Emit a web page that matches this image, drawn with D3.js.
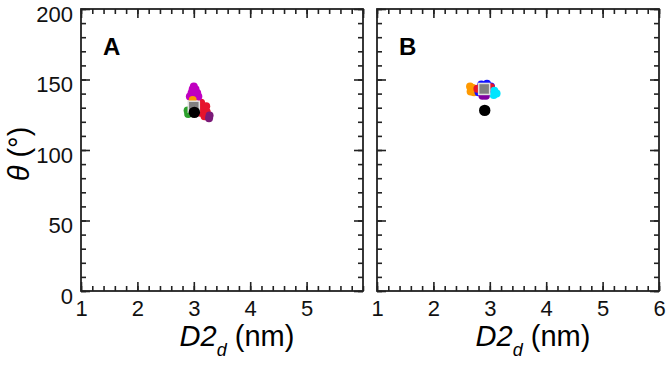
<!DOCTYPE html>
<html>
<head>
<meta charset="utf-8">
<script src="https://cdn.jsdelivr.net/npm/d3@7"></script>
<style>
  body { margin: 0; background: #fff; }
  svg { font-family: "Liberation Sans", Arial, sans-serif; }
</style>
</head>
<body>
<div id="chart"></div>
<script>
// Axis ticks
const xTicksA = [1, 2, 3, 4, 5];
const xTicksB = [1, 2, 3, 4, 5, 6];
const yTicks = [0, 50, 100, 150, 200];

// Panel A points [D2d, theta]
const aGreen = [[2.89, 128], [2.9, 125.5]];
const aRed = [[3.13, 133.5], [3.18, 130.5], [3.23, 127], [3.12, 126.5], [3.19, 124], [3.1, 129.5], [3.22, 131]];
const aPurple = [[3.28, 124.5], [3.27, 122.5]];
const aMagenta = [[3.0, 145], [2.98, 143], [3.03, 143], [2.96, 140.5], [3.01, 140], [3.06, 140.5], [2.99, 138], [2.93, 138], [3.08, 138]];
const aOrange = [[2.98, 135.5]];
const aSquare = [[3.0, 130.7]];
const aCircle = [[3.01, 126.7]];

// Panel B points [D2d, theta]
const bOrange = [[2.65, 145], [2.7, 144], [2.66, 141.5], [2.72, 141]];
const bBlue = [[2.85, 146.5], [2.95, 147], [3.02, 145], [3.03, 141], [2.8, 141]];
const bRed = [[3.02, 144.5], [2.78, 143.5]];
const bPurple = [[2.87, 138.5], [2.93, 138.5]];
const bCyan = [[3.08, 142], [3.12, 140], [3.07, 139]];
const bSquare = [[2.9, 143.3]];
const bCircle = [[2.91, 128.1]];

const panels = [
  { left: 81, label: "A", xTicks: xTicksA, yLabels: true,
    series: [[aGreen, "#2ca02c"], [aRed, "#e6142d"], [aPurple, "#7b1a78"], [aMagenta, "#c000c0"], [aOrange, "#ff9900"]],
    square: aSquare, circle: aCircle },
  { left: 377, label: "B", xTicks: xTicksB, yLabels: false,
    series: [[bOrange, "#ff9900"], [bBlue, "#1010ff"], [bRed, "#e6142d"], [bPurple, "#8000a0"], [bCyan, "#00e5ff"]],
    square: bSquare, circle: bCircle }
];

const plotTop = 9, size = 282;
const svg = d3.select("#chart").append("svg")
    .attr("width", 666)
    .attr("height", 366);

panels.forEach(function(p) {
    const g = svg.append("g").attr("transform", `translate(${p.left},${plotTop})`);

    const x = d3.scaleLinear().domain([1, 6]).range([0, size]);
    const y = d3.scaleLinear().domain([0, 200]).range([size, 0]);

    const xMinor = d3.range(1, 6.01, 0.2);
    const yMinor = d3.range(0, 201, 10);

    // minor ticks on all sides
    g.append("g").attr("transform", `translate(0,${size})`)
        .call(d3.axisBottom(x).tickValues(xMinor).tickSize(-5).tickFormat(""));
    g.append("g")
        .call(d3.axisTop(x).tickValues(xMinor).tickSize(-5).tickFormat(""));
    g.append("g")
        .call(d3.axisLeft(y).tickValues(yMinor).tickSize(-5).tickFormat(""));
    g.append("g").attr("transform", `translate(${size},0)`)
        .call(d3.axisRight(y).tickValues(yMinor).tickSize(-5).tickFormat(""));

    // major ticks
    g.append("g").attr("class", "x-axis").attr("transform", `translate(0,${size})`)
        .call(d3.axisBottom(x).tickValues(p.xTicks).tickSize(-9).tickPadding(9).tickFormat(d3.format("d")));
    g.append("g")
        .call(d3.axisTop(x).tickValues(xTicksB).tickSize(-9).tickFormat(""));
    g.append("g").attr("class", "y-axis")
        .call(d3.axisLeft(y).tickValues(yTicks).tickSize(-9).tickPadding(8)
            .tickFormat(p.yLabels ? d3.format("d") : ""));
    g.append("g").attr("transform", `translate(${size},0)`)
        .call(d3.axisRight(y).tickValues(yTicks).tickSize(-9).tickFormat(""));

    g.selectAll(".domain").remove();
    g.selectAll(".tick line").attr("stroke", "#222").attr("stroke-width", 1.6);
    g.selectAll(".tick text").attr("fill", "#111").style("font-size", "22px");
    g.selectAll(".y-axis .tick text").attr("dy", "0.55em");

    // frame
    g.append("rect")
        .attr("width", size)
        .attr("height", size)
        .attr("fill", "none")
        .attr("stroke", "#222")
        .attr("stroke-width", 1.8);

    // points
    p.series.forEach(function(s) {
        g.append("g").selectAll("circle")
            .data(s[0])
            .enter().append("circle")
            .attr("cx", d => x(d[0]))
            .attr("cy", d => y(d[1]))
            .attr("r", 4)
            .attr("fill", s[1]);
    });

    g.selectAll(".sq")
        .data(p.square)
        .enter().append("rect")
        .attr("x", d => x(d[0]) - 5.5)
        .attr("y", d => y(d[1]) - 5.5)
        .attr("width", 11)
        .attr("height", 11)
        .attr("fill", "#808080")
        .attr("stroke", "#e0e0e0")
        .attr("stroke-width", 1.5);

    g.selectAll(".dot")
        .data(p.circle)
        .enter().append("circle")
        .attr("cx", d => x(d[0]))
        .attr("cy", d => y(d[1]))
        .attr("r", 5.7)
        .attr("fill", "#000");

    // panel letter
    g.append("text")
        .attr("x", 22)
        .attr("y", 46)
        .style("font-size", "24px")
        .style("font-weight", "bold")
        .text(p.label);

    // x-axis label
    const xl = g.append("text")
        .attr("x", size / 2 + 15)
        .attr("y", size + 55)
        .style("text-anchor", "middle")
        .style("font-size", "29px");
    xl.append("tspan").style("font-style", "italic").text("D2");
    xl.append("tspan").style("font-style", "italic").style("font-size", "18px").attr("dy", 10).text("d");
    xl.append("tspan").attr("dy", -10).text(" (nm)");
});

// y-axis label
const yl = svg.append("text")
    .attr("transform", `translate(29,${plotTop + size / 2 + 4}) rotate(-90)`)
    .style("text-anchor", "middle")
    .style("font-size", "29px");
yl.append("tspan").style("font-style", "italic").text("θ");
yl.append("tspan").text(" (°)");
</script>
</body>
</html>
